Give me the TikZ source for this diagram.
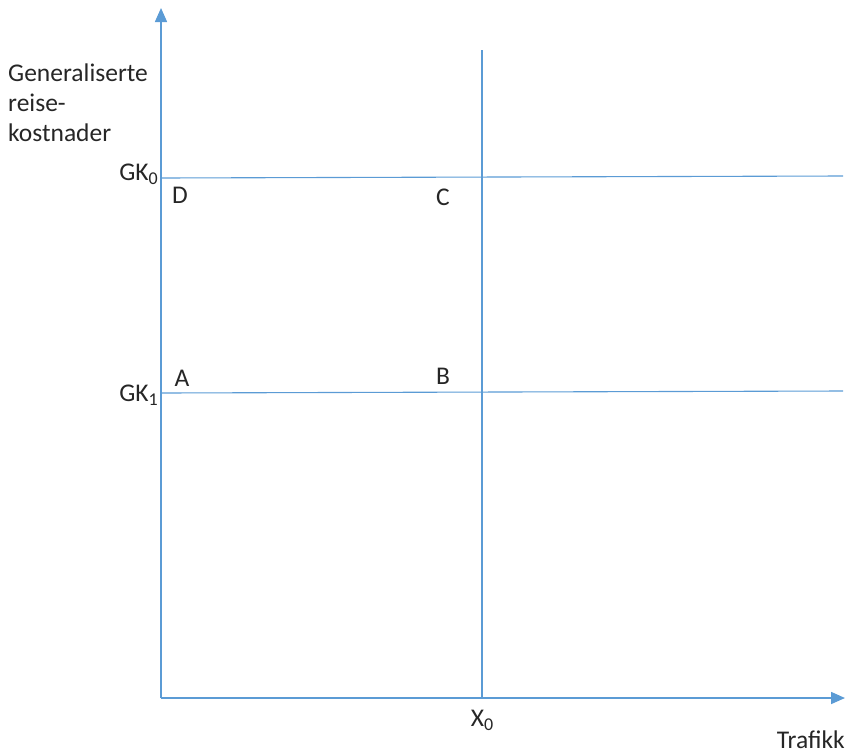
\documentclass[tikz,border=0pt]{standalone}
\usepackage{fontspec}
\setmainfont{Carlito}
\usetikzlibrary{arrows.meta}
\definecolor{ln}{RGB}{91,155,213}
\newcommand{\sbs}[1]{\raisebox{-4pt}{\fontsize{18}{18}\selectfont #1}}
\begin{document}
\begin{tikzpicture}[x=1pt,y=-1pt,
  axis/.style={draw=ln,line width=1.6pt,-{Triangle[length=14pt,width=12pt]}},
  gl/.style={draw=ln,line width=1.1pt},
  lbl/.style={font=\fontsize{25.5}{30}\selectfont,text=black!85,inner sep=0pt}]
\useasboundingbox (0,0) rectangle (845,753);
\coordinate (O) at (161,698);
\coordinate (Ytop) at (161,8);
\coordinate (Xend) at (845,698);
\coordinate (Vtop) at (482,50);
\coordinate (Vbot) at (482,698);
\coordinate (G0l) at (161,178);
\coordinate (G0r) at (843,176);
\coordinate (G1l) at (161,393);
\coordinate (G1r) at (843,391);
\draw[gl] (Vtop) -- (Vbot);
\draw[gl] (G0l) -- (G0r);
\draw[gl] (G1l) -- (G1r);
\draw[axis] (O) -- (Ytop);
\draw[axis] (O) -- (Xend);
\node[lbl,anchor=north west,align=left] (ylab) at (8,64) {Generaliserte\\reise-\\kostnader};
\node[lbl,anchor=base east] (gk0) at (158,180) {GK\sbs{0}};
\node[lbl,anchor=base east] (gk1) at (158,401) {GK\sbs{1}};
\node[lbl,anchor=base] (D) at (180,203) {D};
\node[lbl,anchor=base] (C) at (443,205) {C};
\node[lbl,anchor=base] (A) at (182,386) {A};
\node[lbl,anchor=base] (B) at (443,384) {B};
\node[lbl,anchor=base] (X0) at (482,726) {X\sbs{0}};
\node[lbl,anchor=base east] (tr) at (845,748) {Trafikk};
\end{tikzpicture}
\end{document}
